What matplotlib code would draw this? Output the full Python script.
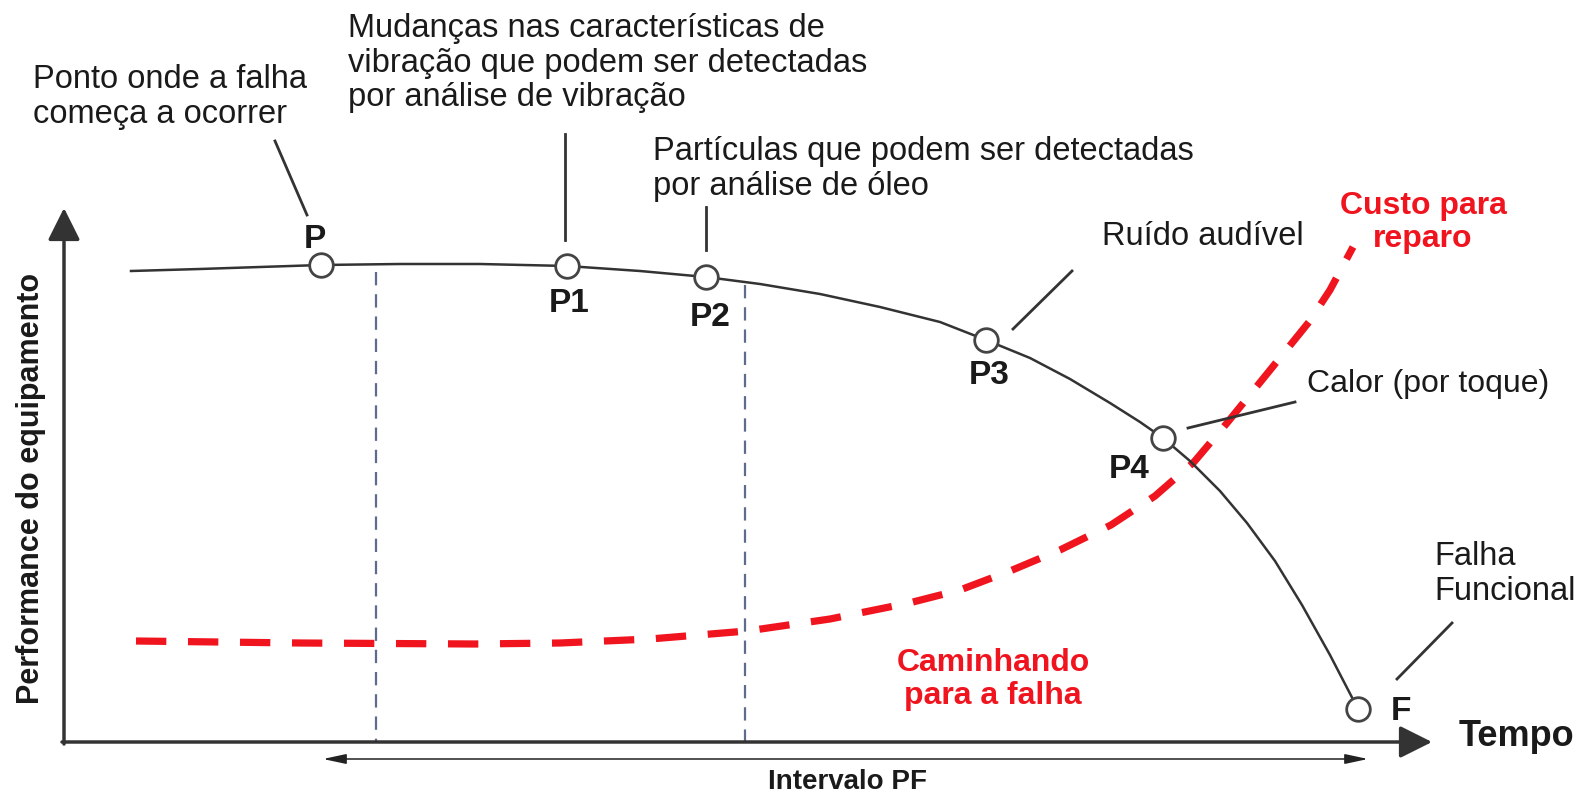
### Curva P-F: performance do equipamento x tempo ###
import numpy as np
import matplotlib.pyplot as plt

plt.rcParams['font.family'] = ['Liberation Sans', 'DejaVu Sans']

### Dados (coordenadas, eixo em pixels) ###
# curva de performance
tempo_perf = [131, 200, 260, 321, 400, 480, 567, 640, 706, 760, 820, 880, 940, 986,
              1030, 1070, 1110, 1140, 1163, 1190, 1220, 1247, 1275, 1302, 1330, 1358]
perf = [271, 269, 267, 265, 264, 264, 266, 271, 277, 284, 294, 307, 322, 340,
        358, 379, 403, 422, 438, 461, 491, 523, 561, 605, 655, 709]

# pontos marcados na curva
pontos_nome = ['P', 'P1', 'P2', 'P3', 'P4', 'F']
pontos_x = [321, 567, 706, 986, 1163, 1358]
pontos_y = [265, 266, 277, 340, 438, 709]

# curva de custo para reparo
tempo_custo = [136, 300, 475, 560, 650, 747, 830, 909, 960, 1010, 1060, 1111,
               1155, 1194, 1227, 1262, 1309, 1330, 1353]
custo = [641, 643, 644, 643, 639, 631, 619, 603, 590, 571, 550, 525,
         496, 462, 423, 380, 322, 290, 247]

### Figura ###
fig = plt.figure(figsize=(15.83, 7.95), dpi=100)
ax = fig.add_axes([0, 0, 1, 1])
ax.set_xlim(0, 1583)
ax.set_ylim(795, 0)
ax.axis('off')

fsize = 23.5
preto = '#1a1a1a'
vermelho = '#f0141e'
espaco = 1.15

### Eixos com setas ###
seta = dict(arrowstyle='-|>,head_length=0.9,head_width=0.45', lw=2.5,
            color='#333333', mutation_scale=22, shrinkA=0, shrinkB=0)
ax.annotate('', xy=(64, 208), xytext=(64, 744), arrowprops=seta)
ax.annotate('', xy=(1432, 742), xytext=(62, 742), arrowprops=seta)

### Intervalo PF ###
ax.annotate('', xy=(1368, 759), xytext=(323, 759),
            arrowprops=dict(arrowstyle='<|-|>,head_length=0.7,head_width=0.15', lw=1.1,
                            color='#222222', mutation_scale=20, shrinkA=0, shrinkB=0))

### Linhas tracejadas verticais ###
ax.plot([376, 376], [272, 742], color='#5d6b8c', lw=1.6, ls=(0, (6, 4)))
ax.plot([745, 745], [285, 742], color='#5d6b8c', lw=1.6, ls=(0, (6, 4)))

### Curvas ###
ax.plot(tempo_custo, custo, color=vermelho, lw=5.2, ls=(0, (4.2, 3)), solid_capstyle='butt')
ax.plot(tempo_perf, perf, color='#333333', lw=1.8, solid_joinstyle='round')
ax.plot(pontos_x, pontos_y, ls='', marker='o', ms=17, mfc='white', mec='#444444', mew=2, zorder=5)

### Rótulos dos pontos ###
rot_pos = {'P': (315, 240), 'P1': (569, 303), 'P2': (710, 317),
           'P3': (989, 376), 'P4': (1129, 469), 'F': (1401, 711)}
for nome in pontos_nome:
    x, y = rot_pos[nome]
    ax.text(x, y, nome, fontsize=24, fontweight='bold', color=preto, ha='center', va='center', zorder=6)

### Linhas de chamada ###
chamadas = [((275, 141), (307, 215)), ((565, 134), (565, 240)), ((706, 207), (706, 250)),
            ((1072, 271), (1013, 329)), ((1295, 402), (1188, 428)), ((1452, 623), (1397, 679))]
for (x0, y0), (x1, y1) in chamadas:
    ax.plot([x0, x1], [y0, y1], color='#333333', lw=2)

### Textos ###
ax.text(33, 64, 'Ponto onde a falha\ncomeça a ocorrer', fontsize=fsize, color=preto,
        va='top', ha='left', linespacing=espaco)
ax.text(348, 13, 'Mudanças nas características de\nvibração que podem ser detectadas\npor análise de vibração',
        fontsize=fsize, color=preto, va='top', ha='left', linespacing=espaco)
ax.text(653, 136, 'Partículas que podem ser detectadas\npor análise de óleo',
        fontsize=fsize, color=preto, va='top', ha='left', linespacing=espaco)
ax.text(1102, 221, 'Ruído audível', fontsize=fsize, color=preto, va='top', ha='left')
ax.text(1307, 384, 'Calor (por toque)', fontsize=23, color=preto, va='center', ha='left')
ax.text(1434, 574, 'Falha\nFuncional', fontsize=fsize, color=preto, va='center', ha='left', linespacing=espaco)
ax.text(1423, 191, 'Custo para\nreparo', fontsize=23, fontweight='bold', color=vermelho,
        va='top', ha='center', linespacing=espaco)
ax.text(993, 648, 'Caminhando\npara a falha', fontsize=23, fontweight='bold', color=vermelho,
        va='top', ha='center', linespacing=espaco)
ax.text(1459, 736, 'Tempo', fontsize=26, fontweight='bold', color=preto, va='center', ha='left')
ax.text(848, 782, 'Intervalo PF', fontsize=20, fontweight='bold', color=preto, va='center', ha='center')
ax.text(31, 488, 'Performance do equipamento', fontsize=22, fontweight='bold', color=preto,
        va='center', ha='center', rotation=90)

### Salvar figura ###
fig.savefig('out.png', dpi=100)
